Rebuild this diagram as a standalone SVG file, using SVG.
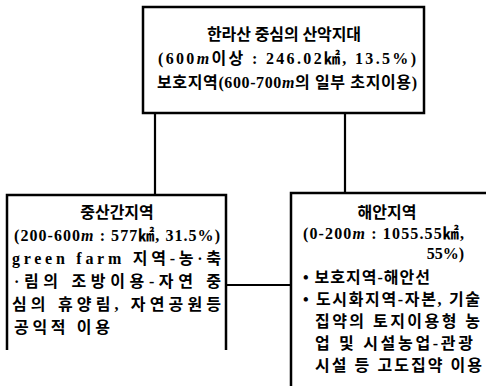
<svg xmlns="http://www.w3.org/2000/svg" width="486" height="386" viewBox="0 0 486 386">
<style>
.box{fill:none;stroke:#000;stroke-width:2.5}
.ln{fill:none;stroke:#000;stroke-width:2.2}
text{font-family:"Liberation Serif","Noto Sans CJK KR",serif;font-size:16px;fill:#000;font-weight:bold}
.c{text-anchor:middle}
</style>
<rect width="486" height="386" fill="#fff"/>
<g id="connectors">
<path class="ln" d="M155,113 V195 M345,113 V193 M226,285 H291"/>
</g>
<g id="top">
<rect class="box" x="143" y="7" width="281" height="106"/>
<text class="c" x="284" y="40" textLength="154" lengthAdjust="spacing">한라산 중심의 산악지대</text>
<text x="158" y="64" textLength="258" lengthAdjust="spacing">(600<tspan font-style="italic">m</tspan>이상 : 246.02㎢, 13.5%)</text>
<text x="157" y="88" textLength="260" lengthAdjust="spacing">보호지역(600-700<tspan font-style="italic">m</tspan>의 일부 초지이용)</text>
</g>
<g id="left">
<path class="box" d="M7,350 V195 H226 V350"/>
<text class="c" x="117" y="218">중산간지역</text>
<text x="14" y="241" textLength="206" lengthAdjust="spacing">(200-600<tspan font-style="italic">m</tspan> : 577㎢, 31.5%)</text>
<text x="12" y="264" textLength="209" lengthAdjust="spacing">green farm 지역-농·축</text>
<text x="14" y="287" textLength="207" lengthAdjust="spacing">·림의 조방이용-자연 중</text>
<text x="12" y="310" textLength="209" lengthAdjust="spacing">심의 휴양림, 자연공원등</text>
<text x="14" y="333" textLength="96" lengthAdjust="spacing">공익적 이용</text>
</g>
<g id="right">
<path class="box" d="M291,386 V193 H486"/>
<text class="c" x="387" y="218">해안지역</text>
<text x="303" y="239" textLength="161" lengthAdjust="spacing">(0-200<tspan font-style="italic">m</tspan> : 1055.55㎢,</text>
<text x="464" y="259" text-anchor="end">55%)</text>
<text x="303" y="283" textLength="127" lengthAdjust="spacing">• 보호지역-해안선</text>
<text x="303" y="305" textLength="177" lengthAdjust="spacing">• 도시화지역-자본, 기술</text>
<text x="315" y="327" textLength="165" lengthAdjust="spacing">집약의 토지이용형 농</text>
<text x="315" y="349" textLength="158" lengthAdjust="spacing">업 및 시설농업-관광</text>
<text x="315" y="371" textLength="167" lengthAdjust="spacing">시설 등 고도집약 이용</text>
</g>
</svg>
